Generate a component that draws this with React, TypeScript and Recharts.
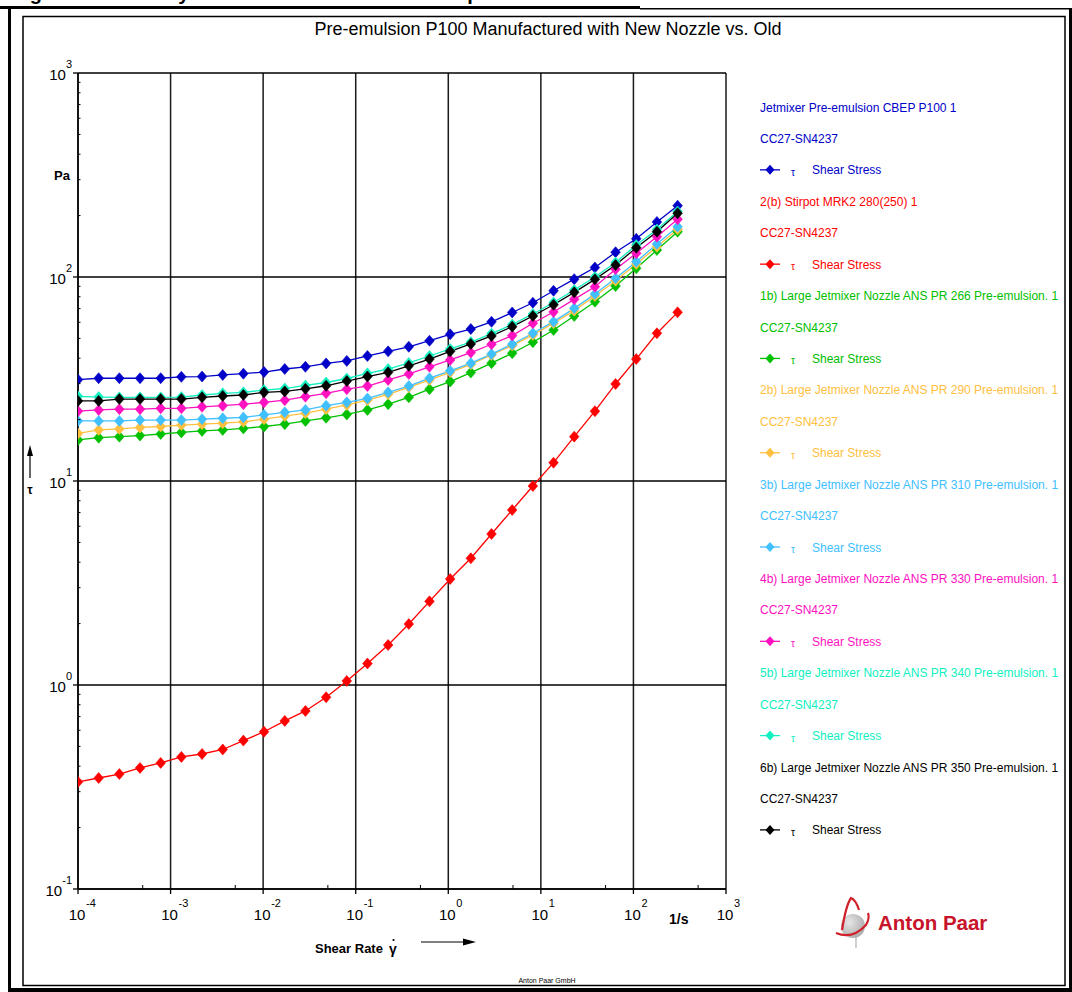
import React from 'react';
import { LineChart, Line, XAxis, YAxis, ReferenceLine } from 'recharts';

const FONT = '"Liberation Sans", Arial, Helvetica, sans-serif';

// Shear rate (1/s)
const shearRate = [
  1.0e-4, 1.672e-4, 2.797e-4, 4.678e-4, 7.823e-4, 1.308e-3, 2.188e-3, 3.659e-3, 6.119e-3, 1.023e-2,
  1.712e-2, 2.863e-2, 4.788e-2, 8.01e-2, 0.1339, 0.224, 0.3746, 0.6265, 1.048, 1.752,
  2.931, 4.901, 8.198, 13.71, 22.93, 38.35, 64.13, 107.3, 179.4, 300.0,
];

// Shear stress (Pa) per sample
const jetmixerCBEP = [
  31.4, 31.9, 31.9, 31.9, 31.9, 32.4, 32.5, 33.1, 33.6, 34.2,
  35.4, 36.3, 37.7, 38.8, 41.0, 43.2, 45.5, 48.7, 52.4, 55.6,
  60.3, 67.0, 74.8, 85.6, 97.6, 111.3, 132.3, 153.9, 186.1, 223.7,
];
const stirpotMRK2 = [
  0.335, 0.35, 0.366, 0.392, 0.415, 0.444, 0.459, 0.483, 0.534, 0.59,
  0.667, 0.746, 0.871, 1.047, 1.274, 1.57, 1.99, 2.57, 3.31, 4.18,
  5.5, 7.21, 9.45, 12.3, 16.5, 22.0, 29.9, 39.6, 53.0, 67.1,
];
const nozzle266 = [
  15.9, 16.3, 16.5, 16.7, 17.0, 17.3, 17.6, 17.8, 18.1, 18.5,
  19.0, 19.7, 20.4, 21.2, 22.3, 23.8, 25.7, 28.2, 30.7, 34.0,
  37.8, 42.3, 47.9, 55.0, 64.4, 75.7, 90.3, 110.3, 135.6, 166.7,
];
const nozzle290 = [
  17.1, 17.8, 18.0, 18.3, 18.5, 18.8, 19.0, 19.2, 19.5, 20.1,
  20.8, 21.5, 22.5, 23.6, 24.9, 26.6, 28.8, 31.3, 34.1, 37.3,
  41.5, 46.1, 52.0, 59.3, 68.4, 80.7, 95.9, 115.8, 140.8, 171.3,
];
const nozzle310 = [
  19.7, 19.7, 19.7, 19.9, 19.9, 19.9, 20.1, 20.3, 20.5, 21.1,
  21.7, 22.3, 23.4, 24.3, 25.4, 27.2, 29.2, 31.9, 34.7, 37.8,
  41.9, 46.8, 53.0, 60.4, 70.2, 82.5, 98.5, 118.9, 145.1, 176.4,
];
const nozzle330 = [
  22.0, 22.3, 22.5, 22.5, 22.7, 22.7, 23.1, 23.4, 23.8, 24.3,
  24.9, 25.9, 26.9, 28.2, 29.2, 31.3, 33.5, 36.3, 39.2, 42.6,
  46.8, 51.6, 59.3, 67.4, 77.7, 89.6, 109.1, 130.7, 157.6, 191.8,
];
const nozzle340 = [
  26.0, 25.8, 25.7, 25.7, 25.7, 25.8, 26.4, 26.9, 27.2, 27.9,
  28.4, 29.4, 30.4, 31.8, 33.7, 35.4, 37.9, 41.0, 44.4, 48.0,
  52.8, 58.5, 65.9, 75.0, 86.4, 100.0, 117.8, 143.5, 171.0, 209.5,
];
const nozzle350 = [
  24.7, 24.7, 25.2, 25.2, 25.2, 25.2, 25.7, 26.1, 26.4, 27.2,
  27.5, 28.3, 29.3, 30.9, 32.5, 34.1, 36.7, 39.6, 43.2, 47.0,
  51.4, 57.1, 64.4, 73.1, 84.1, 97.4, 114.5, 139.2, 166.7, 205.3,
];

const seriesNames = [
  'Jetmixer Pre-emulsion CBEP P100 1',
  '2(b) Stirpot MRK2 280(250) 1',
  '1b) Large Jetmixer Nozzle ANS PR 266 Pre-emulsion. 1',
  '2b) Large Jetmixer Nozzle ANS PR 290 Pre-emulsion. 1',
  '3b) Large Jetmixer Nozzle ANS PR 310 Pre-emulsion. 1',
  '4b) Large Jetmixer Nozzle ANS PR 330 Pre-emulsion. 1',
  '5b) Large Jetmixer Nozzle ANS PR 340 Pre-emulsion. 1',
  '6b) Large Jetmixer Nozzle ANS PR 350 Pre-emulsion. 1',
];
const seriesColors = ['#0000c8', '#ff0000', '#00c000', '#ffc040', '#40c0ff', '#ff10c0', '#10f0c0', '#000000'];
const seriesValues = [jetmixerCBEP, stirpotMRK2, nozzle266, nozzle290, nozzle310, nozzle330, nozzle340, nozzle350];
const measuringSystem = 'CC27-SN4237';
const variableSymbol = 'τ';
const variableName = 'Shear Stress';

const xDecades = [1e-4, 1e-3, 1e-2, 1e-1, 1, 10, 100, 1000];
const xExponents = ['-4', '-3', '-2', '-1', '0', '1', '2', '3'];
const xMinorMultipliers = [5];
const yDecades = [0.1, 1, 10, 100, 1000];
const yExponents = ['-1', '0', '1', '2', '3'];
const yMinorMultipliers = [2, 3, 4, 5, 6, 7, 8, 9];

const xTicks: number[] = [];
xDecades.forEach((d, i) => {
  xTicks.push(d);
  if (i < xDecades.length - 1) xMinorMultipliers.forEach((m) => xTicks.push(d * m));
});
const yTicks: number[] = [];
yDecades.forEach((d, i) => {
  yTicks.push(d);
  if (i < yDecades.length - 1) yMinorMultipliers.forEach((m) => yTicks.push(d * m));
});

const rows = shearRate.map((x, i) => {
  const r: any = { x };
  seriesValues.forEach((vals, k) => {
    r['s' + k] = vals[i];
  });
  return r;
});

const findDecade = (list: number[], v: number) =>
  list.findIndex((d) => Math.abs(Math.log10(d) - Math.log10(v)) < 1e-6);

const XTick = (props: any) => {
  const { x, y, payload } = props;
  const idx = findDecade(xDecades, payload.value);
  if (idx >= 0) {
    return (
      <g>
        <line x1={x} y1={y} x2={x} y2={y + 5} stroke="#000" strokeWidth={1.3} />
        <text x={x - 1} y={y + 31} textAnchor="middle" fontSize={15} fontFamily={FONT} fill="#000">
          10
        </text>
        <text x={x + 8} y={y + 18} fontSize={11} fontFamily={FONT} fill="#000">
          {xExponents[idx]}
        </text>
      </g>
    );
  }
  return <line x1={x} y1={y} x2={x} y2={y - 4} stroke="#000" strokeWidth={1} />;
};

const YTick = (props: any) => {
  const { x, y, payload } = props;
  const idx = findDecade(yDecades, payload.value);
  if (idx >= 0) {
    return (
      <g>
        <line x1={x - 5} y1={y} x2={x} y2={y} stroke="#000" strokeWidth={1.3} />
        <text x={x - 6} y={y + 7} textAnchor="end" fontSize={15} fontFamily={FONT} fill="#000">
          10
          <tspan fontSize={11} dy={-12}>
            {yExponents[idx]}
          </tspan>
        </text>
      </g>
    );
  }
  return <line x1={x} y1={y} x2={x + 2.5} y2={y} stroke="#000" strokeWidth={1} />;
};

const makeDiamond = (color: string) => (props: any) => {
  const { cx, cy, index } = props;
  if (cx == null || cy == null) return <g key={index} />;
  return (
    <polygon
      key={index}
      points={`${cx},${cy - 5.5} ${cx + 4.8},${cy} ${cx},${cy + 5.5} ${cx - 4.8},${cy}`}
      fill={color}
      stroke={color}
      strokeWidth={0.6}
    />
  );
};

const ROW = 31.43;
const LEG_X = 760;
const LEG_Y0 = 107;

export default function App() {
  return (
    <div style={{ position: 'absolute', left: 0, top: 0, width: 1072, height: 992, background: '#fff', overflow: 'hidden' }}>
      <div style={{ position: 'absolute', left: 0, top: 0 }}>
        <LineChart
          width={1072}
          height={992}
          data={rows}
          margin={{ left: 77, top: 73, right: 346, bottom: 102 }}
        >
          {xDecades.map((d) => (
            <ReferenceLine key={'gx' + d} x={d} stroke="#1a1a1a" strokeWidth={1.5} ifOverflow="visible" />
          ))}
          {yDecades.map((d) => (
            <ReferenceLine key={'gy' + d} y={d} stroke="#000" strokeWidth={1.5} ifOverflow="visible" />
          ))}
          <XAxis
            dataKey="x"
            type="number"
            scale="log"
            domain={[1e-4, 1e3]}
            allowDataOverflow
            ticks={xTicks}
            interval={0}
            height={1}
            tickSize={0}
            tickMargin={0}
            tickLine={false}
            axisLine={{ stroke: '#000', strokeWidth: 1.5 }}
            tick={<XTick />}
          />
          <YAxis
            type="number"
            scale="log"
            domain={[0.1, 1000]}
            allowDataOverflow
            ticks={yTicks}
            interval={0}
            width={1}
            tickSize={0}
            tickMargin={0}
            tickLine={false}
            axisLine={{ stroke: '#000', strokeWidth: 1.5 }}
            tick={<YTick />}
          />
          {seriesValues.map((_, k) => (
            <Line
              key={'s' + k}
              dataKey={'s' + k}
              stroke={seriesColors[k]}
              strokeWidth={1.3}
              dot={makeDiamond(seriesColors[k])}
              activeDot={false}
              isAnimationActive={false}
              type="linear"
            />
          ))}
        </LineChart>
      </div>
      <svg width={1072} height={992} style={{ position: 'absolute', left: 0, top: 0, pointerEvents: 'none' }}>
        <defs>
          <clipPath id="frameClip">
            <rect x={23} y={17} width={1041} height={968} />
          </clipPath>
          <radialGradient id="globe" cx="0.35" cy="0.35" r="0.75">
            <stop offset="0" stopColor="#e6e6e6" />
            <stop offset="1" stopColor="#a8a8a8" />
          </radialGradient>
        </defs>
        {/* cut-off page heading (only its lower edge is visible in the source) */}
        <text x={12} y={0} fontSize={20} fontWeight="bold" fontFamily={FONT} fill="#000">
          Figure 4: Viscosity Curves of Pre-emulsion Samples
        </text>
        {/* outer frame */}
        <rect x={0} y={6} width={640} height={3} fill="#000" />
        <rect x={8} y={8} width={3} height={984} fill="#000" />
        <rect x={8} y={988} width={1064} height={4} fill="#000" />
        <rect x={1069} y={8} width={3} height={984} fill="#000" />
        <rect x={640} y={8} width={432} height={1.5} fill="#000" />
        {/* inner frame */}
        <rect x={23} y={16.5} width={1042} height={969} fill="none" stroke="#000" strokeWidth={1.5} />

        {/* title */}
        <text x={548} y={35} textAnchor="middle" fontSize={18} fontFamily={FONT} fill="#000">
          Pre-emulsion P100 Manufactured with New Nozzle vs. Old
        </text>

        {/* y axis labels */}
        <text x={54} y={180} fontSize={13} fontWeight="bold" fontFamily={FONT} fill="#000">
          Pa
        </text>
        <line x1={30} y1={478} x2={30} y2={454} stroke="#000" strokeWidth={1.2} />
        <polygon points="30,445 27,456 33,456" fill="#000" />
        <text x={30} y={494} textAnchor="middle" fontSize={12} fontWeight="bold" fontFamily={FONT} fill="#000">
          {variableSymbol}
        </text>

        {/* x axis labels */}
        <text x={669} y={924} fontSize={14} fontWeight="bold" fontFamily={FONT} fill="#000">
          1/s
        </text>
        <text x={315} y={953} fontSize={13} fontWeight="bold" fontFamily={FONT} fill="#000">
          Shear Rate
        </text>
        <text x={389} y={954} fontSize={14} fontWeight="bold" fontFamily={FONT} fill="#000">
          γ
        </text>
        <circle cx={393.5} cy={940} r={1.1} fill="#000" />
        <line x1={421} y1={942} x2={463} y2={942} stroke="#000" strokeWidth={1.2} />
        <polygon points="476,942 463,938.5 463,945.5" fill="#000" />

        {/* legend */}
        <g clipPath="url(#frameClip)" fontFamily={FONT} fontSize={12}>
          {seriesNames.map((name, k) => {
            const c = seriesColors[k];
            const y0 = LEG_Y0 + k * 3 * ROW;
            const y2 = y0 + 2 * ROW;
            return (
              <g key={'leg' + k}>
                <text x={LEG_X} y={y0 + 4.5} fill={c}>
                  {name}
                </text>
                <text x={LEG_X} y={y0 + ROW + 4.5} fill={c}>
                  {measuringSystem}
                </text>
                <line x1={LEG_X} y1={y2} x2={LEG_X + 20} y2={y2} stroke={c} strokeWidth={1.3} />
                <polygon
                  points={`${LEG_X + 10},${y2 - 5} ${LEG_X + 14.5},${y2} ${LEG_X + 10},${y2 + 5} ${LEG_X + 5.5},${y2}`}
                  fill={c}
                />
                <text x={LEG_X + 31} y={y2 + 6} fontSize={10} fill={c}>
                  {variableSymbol}
                </text>
                <text x={LEG_X + 52} y={y2 + 4.5} fill={c}>
                  {variableName}
                </text>
              </g>
            );
          })}
        </g>

        {/* Anton Paar logo */}
        <g>
          <circle cx={853} cy={926} r={12} fill="url(#globe)" />
          <path d="M 856 932 L 856 948" stroke="#b0b0b0" strokeWidth={1.2} fill="none" />
          <path d="M 842 930 Q 846 905 851 898 Q 856 900 859 910" stroke="#d0202a" strokeWidth={2.2} fill="none" />
          <path d="M 836 933 Q 852 940 866 925 Q 870 918 868 913" stroke="#d0202a" strokeWidth={2.2} fill="none" />
          <text x={878} y={930} fontSize={20.5} fontWeight="bold" fontFamily={FONT} fill="#c8142a">
            Anton Paar
          </text>
        </g>

        {/* footer */}
        <text x={547} y={983} textAnchor="middle" fontSize={7} fontFamily={FONT} fill="#000">
          Anton Paar GmbH
        </text>
      </svg>
    </div>
  );
}
